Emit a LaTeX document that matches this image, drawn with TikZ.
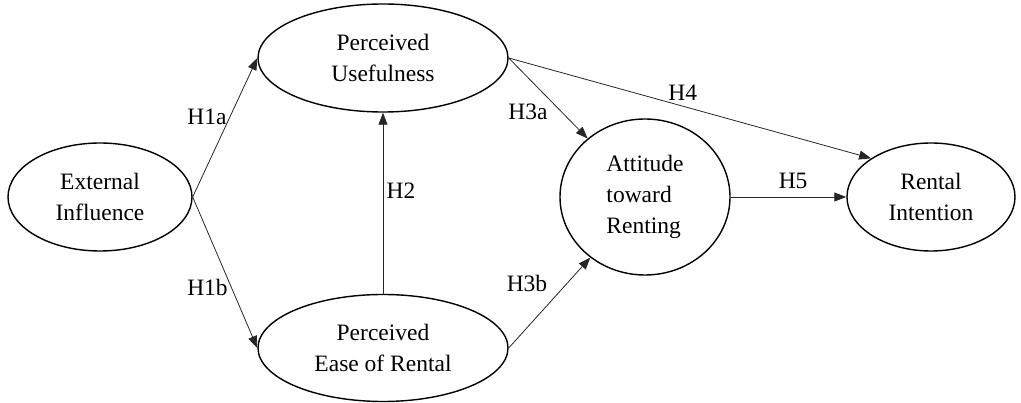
\documentclass[tikz,border=0pt]{standalone}
\usepackage{fontspec}
\setmainfont{Liberation Serif}
\usepackage{tikz}
\usetikzlibrary{positioning, arrows.meta, shapes.geometric}
\tikzset{
  construct/.style={
    ellipse, draw=black, line width=1.4pt, inner sep=0pt,
    font=\fontsize{23.5}{31}\selectfont, align=center
  },
  every edge/.style={draw=black!85, line width=0.8pt,
    -{Triangle[length=12pt, width=9pt]}},
  hyp/.style={font=\fontsize{23.5}{28}\selectfont},
}
\begin{document}
\begin{tikzpicture}[x=1pt, y=-1pt]
  \useasboundingbox (0,0) rectangle (1021,403);
  \node[construct, minimum width=184pt, minimum height=108pt] (EI) at (100,197) {External\\Influence};
  \node[construct, minimum width=250pt, minimum height=108pt] (PU) at (383,58) {Perceived\\Usefulness};
  \node[construct, minimum width=250pt, minimum height=107pt] (PER) at (383,348) {Perceived\\Ease of Rental};
  \node[construct, minimum width=170pt, minimum height=156pt, align=left] (ATR) at (645,197) {Attitude\\toward\\Renting};
  \node[construct, minimum width=168pt, minimum height=108pt] (RI) at (931,197) {Rental\\Intention};

  \path (EI.east) edge node[hyp, pos=0.58, left]{H1a} (PU.west)
        (EI.east) edge node[hyp, pos=0.6, left]{H1b} (PER.west)
        (PER.north) edge node[hyp, pos=0.57, right]{H2} (PU.south)
        (PU.east) edge node[hyp, pos=0.667, left=10pt]{H3a} (ATR)
        (PER.east) edge node[hyp, pos=0.714, left=16pt]{H3b} (ATR)
        (PU.east) edge node[hyp, pos=0.48, above=2pt]{H4} (RI.north west)
        (ATR.east) edge node[hyp, pos=0.54, above=5pt]{H5} (RI.west);
\end{tikzpicture}
\end{document}
